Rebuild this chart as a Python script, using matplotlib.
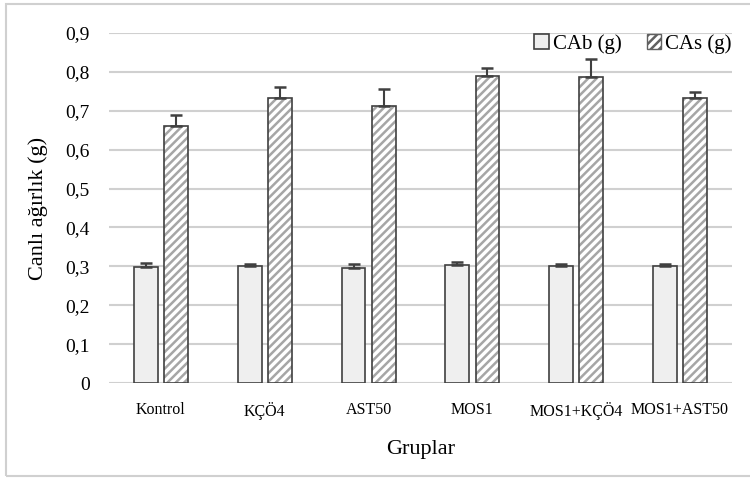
import matplotlib.pyplot as plt
import numpy as np
from matplotlib.patches import Rectangle

groups = ['Kontrol', 'KÇÖ4', 'AST50', 'MOS1', 'MOS1+KÇÖ4', 'MOS1+AST50']
cab = [0.298, 0.300, 0.296, 0.303, 0.300, 0.300]
cab_err = [0.010, 0.007, 0.010, 0.008, 0.007, 0.007]
cas = [0.661, 0.733, 0.713, 0.789, 0.787, 0.733]
cas_err = [0.028, 0.027, 0.044, 0.020, 0.047, 0.016]
yticks = [0, 0.1, 0.2, 0.3, 0.4, 0.5, 0.6, 0.7, 0.8, 0.9]


def main():
    plt.rcParams['font.family'] = ['Liberation Serif', 'DejaVu Serif']
    plt.rcParams['hatch.linewidth'] = 1.8

    fig = plt.figure(figsize=(7.5, 4.78), dpi=100)
    ax = fig.add_axes([0.1453, 0.1987, 0.8307, 0.7323])

    x = np.arange(len(groups))
    w = 0.23
    off = 0.145
    ax.bar(x - off, cab, w, color='#efefef', edgecolor='#404040', linewidth=1.2,
           label='CAb (g)', zorder=3)
    # hatch layer (grey stripes), then dark outline on top
    ax.bar(x + off, cas, w, color='white', edgecolor='#a6a6a6', linewidth=0,
           hatch='////', zorder=3)
    ax.bar(x + off, cas, w, fill=False, edgecolor='#404040', linewidth=1.2, zorder=3.5)
    ax.errorbar(x - off, cab, yerr=[np.zeros(len(cab)), cab_err], fmt='none',
                ecolor='#404040', elinewidth=1.5, capsize=4, capthick=1.8, zorder=4)
    ax.errorbar(x + off, cas, yerr=[np.zeros(len(cas)), cas_err], fmt='none',
                ecolor='#404040', elinewidth=1.5, capsize=4, capthick=1.8, zorder=4)

    # legend proxy for the hatched series
    ax.bar([0], [0], 0, color='white', edgecolor='#606060', linewidth=1.0,
           hatch='////', label='CAs (g)')

    ax.set_xlim(-0.5, len(groups) - 0.5)
    ax.set_ylim(0, 0.9)
    ax.set_yticks(yticks)
    ax.set_yticklabels([f'{v:.1f}'.replace('.', ',') if v else '0' for v in yticks], fontsize=14)
    ax.set_xticks(x)
    ax.set_xticklabels(groups, fontsize=11.5)
    ax.tick_params(axis='y', length=0, pad=14)
    ax.tick_params(axis='x', length=0, pad=14)
    ax.grid(axis='y', color='#d0d0d0', linewidth=1.5, zorder=0)
    for s in ax.spines.values():
        s.set_visible(False)

    ax.set_ylabel('Canlı ağırlık (g)', fontsize=16, labelpad=12)
    ax.set_xlabel('Gruplar', fontsize=16, labelpad=14)

    ax.legend(loc='upper right', bbox_to_anchor=(1.03, 1.05), ncol=2, frameon=False,
              fontsize=15, handlelength=0.7, handleheight=0.7, handletextpad=0.2,
              columnspacing=1.2)

    fig.patches.append(Rectangle((6 / 750, 2 / 478), 750, 472 / 478, transform=fig.transFigure,
                                 fill=False, edgecolor='#d0d0d0', linewidth=1.5))

    fig.savefig('out.png', dpi=100)


if __name__ == '__main__':
    main()
